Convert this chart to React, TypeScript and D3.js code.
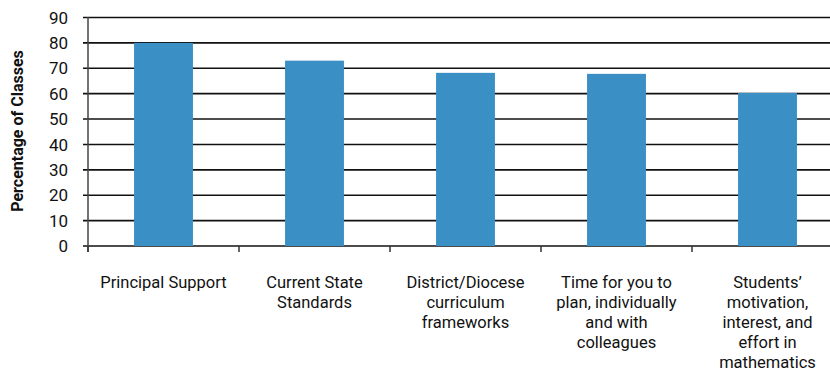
import * as React from 'react';
import * as d3 from 'd3';

const categories = [
  'Principal Support',
  'Current State Standards',
  'District/Diocese curriculum frameworks',
  'Time for you to plan, individually and with colleagues',
  'Students’ motivation, interest, and effort in mathematics',
];
const categoryLines = [
  ['Principal Support'],
  ['Current State', 'Standards'],
  ['District/Diocese', 'curriculum', 'frameworks'],
  ['Time for you to', 'plan, individually', 'and with', 'colleagues'],
  ['Students’', 'motivation,', 'interest, and', 'effort in', 'mathematics'],
];
const values = [80, 73, 68.2, 67.8, 60.3];
const yTicks = [0, 10, 20, 30, 40, 50, 60, 70, 80, 90];

const W = 830;
const H = 372;
const FONT = "'Roboto', sans-serif";

export default function App() {
  const x = d3.scaleBand<string>().domain(categories).range([88, 843]).padding(0);
  const y = d3.scaleLinear().domain([0, 90]).range([246, 17.5]);
  const barW = x.bandwidth() * 0.39;

  return (
    <svg width={W} height={H} style={{ position: 'absolute', left: 0, top: 0, background: '#fff' }}>
      {yTicks.map((t) => (
        <g key={t}>
          <line x1={83} x2={W} y1={y(t)} y2={y(t)} stroke="#111" strokeWidth={1.6} />
          <text x={68} y={y(t)} dy="0.36em" textAnchor="end" fontFamily={FONT} fontSize={17} fill="#111">
            {t}
          </text>
        </g>
      ))}
      <line x1={88} x2={88} y1={17} y2={252} stroke="#444" strokeWidth={1.5} />
      {categories.map((c, i) => (
        <line key={'tk' + i} x1={x(c)!} x2={x(c)!} y1={246} y2={252} stroke="#333" strokeWidth={1.5} />
      ))}
      {categories.map((c, i) => (
        <rect
          key={'b' + i}
          x={x(c)! + (x.bandwidth() - barW) / 2}
          y={y(values[i])}
          width={barW}
          height={y(0) - y(values[i])}
          fill="#3A90C5"
        />
      ))}
      {categories.map((c, i) => (
        <text key={'l' + i} textAnchor="middle" fontFamily={FONT} fontSize={16.5} fill="#111">
          {categoryLines[i].map((ln, j) => (
            <tspan key={j} x={x(c)! + x.bandwidth() / 2} y={288 + j * 20}>
              {ln}
            </tspan>
          ))}
        </text>
      ))}
      <text
        transform="translate(23,131) rotate(-90)"
        textAnchor="middle"
        fontFamily={FONT}
        fontWeight="bold"
        fontSize={16}
        fill="#111"
      >
        Percentage of Classes
      </text>
    </svg>
  );
}
